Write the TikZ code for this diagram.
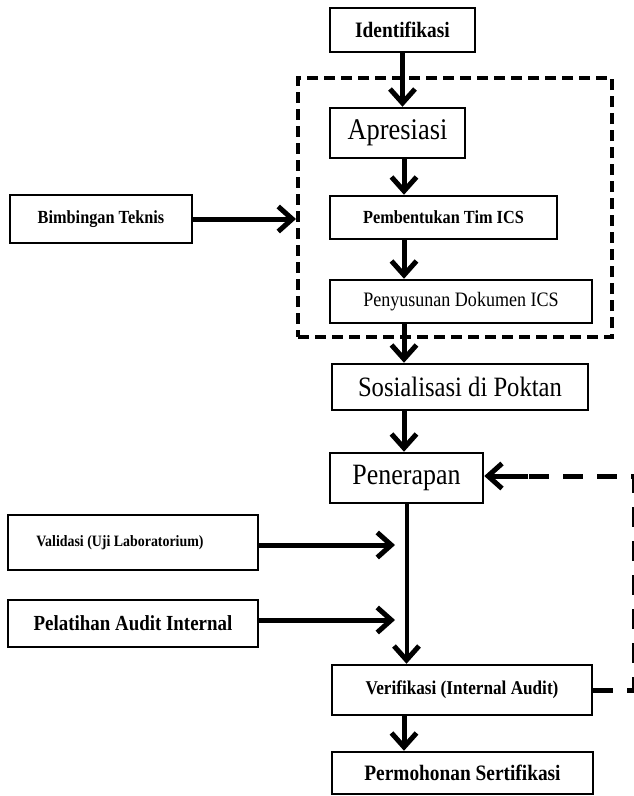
\documentclass[tikz,border=0pt]{standalone}
\usepackage{fontspec}
\setmainfont{Liberation Serif}
\newfontfamily\cond[FakeStretch=0.88]{Liberation Serif}
\usetikzlibrary{arrows.meta,calc}
\begin{document}
\begin{tikzpicture}[x=1pt,y=-1pt,
  box/.style={draw, line width=2.5pt, inner sep=0pt, align=center, font=\cond},
  tipb/.tip={Straight Barb[length=14pt,width=25pt,line width=5pt]},
  arr/.style={line width=5pt, -tipb},
  fb/.style={line width=5pt, dash pattern=on 20pt off 14pt},
  grpbox/.style={draw, line width=4pt, dash pattern=on 11pt off 6pt, inner sep=0pt}]
\useasboundingbox (0,0) rectangle (634,796);
\fill[white] (0,0) rectangle (634,796);
% nodes
\node[box, minimum width=145pt, minimum height=44pt] (ident) at (402.5,30) {\bfseries\fontsize{22}{24}\selectfont Identifikasi};
\node[grpbox, minimum width=314pt, minimum height=259pt] (grp) at (455,207.5) {};
\node[box, minimum width=135pt, minimum height=50pt] (apres) at (397.5,133) {\fontsize{30}{32}\selectfont Apresiasi};
\node[box, minimum width=227pt, minimum height=43pt] (tim) at (443.5,217.5) {\bfseries\fontsize{18.5}{20}\selectfont Pembentukan Tim ICS};
\node[box, minimum width=262pt, minimum height=43pt] (dok) at (461,301.5) {\fontsize{20.5}{22}\selectfont Penyusunan Dokumen ICS};
\node[box, minimum width=256pt, minimum height=46pt] (sos) at (460,387) {\fontsize{28}{30}\selectfont Sosialisasi di Poktan};
\node[box, minimum width=153pt, minimum height=50pt] (pen) at (406.5,478) {\fontsize{29.5}{31}\selectfont Penerapan};
\node[box, minimum width=260pt, minimum height=50pt] (ver) at (462,690) {\bfseries\fontsize{19.5}{21}\selectfont Verifikasi (Internal Audit)};
\node[box, minimum width=261pt, minimum height=42pt] (perm) at (462.5,773) {\bfseries\fontsize{22}{24}\selectfont Permohonan Sertifikasi};
\node[box, minimum width=182pt, minimum height=48pt] (bim) at (101,219) {\bfseries\fontsize{18.5}{20}\selectfont Bimbingan Teknis};
\node[box, minimum width=250pt, minimum height=55pt] (val) at (133,542.5) {};
\node[inner sep=0pt, font=\cond] (valt) at (120,543) {\bfseries\fontsize{15.8}{17}\selectfont Validasi (Uji Laboratorium)};
\node[box, minimum width=250pt, minimum height=47pt] (pel) at (133,623.5) {\bfseries\fontsize{21.5}{23}\selectfont Pelatihan Audit Internal};
% coordinates
\coordinate (ax) at (404,0);
\coordinate (v1) at (395,545);
\coordinate (v2) at (395,620);
\coordinate (c1) at (634,690);
\coordinate (c2) at (634,476);
% connectors
\draw[arr] (ident.south) -- (ident.south |- apres.north);
\draw[arr] (ax |- apres.south) -- (ax |- tim.north);
\draw[arr] (ax |- tim.south) -- (ax |- dok.north);
\draw[arr] (ax |- dok.south) -- (ax |- sos.north);
\draw[arr] (ax |- sos.south) -- (ax |- pen.north);
\draw[line width=4pt, -tipb] (pen.south) -- (pen.south |- ver.north);
\draw[arr] (ax |- ver.south) -- (ax |- perm.north);
\draw[arr] (bim.east) -- (grp.west |- bim.east);
\draw[arr] (val.east |- v1) -- (v1);
\draw[arr] (pel.east |- v2) -- (v2);
\draw[fb] (ver.east) -- (c1) -- (c2) -- ($(pen.east |- c2)+(30,0)$);
\draw[line width=5pt, -tipb] ($(pen.east |- c2)+(44,0)$) -- (pen.east |- c2);
\end{tikzpicture}
\end{document}
